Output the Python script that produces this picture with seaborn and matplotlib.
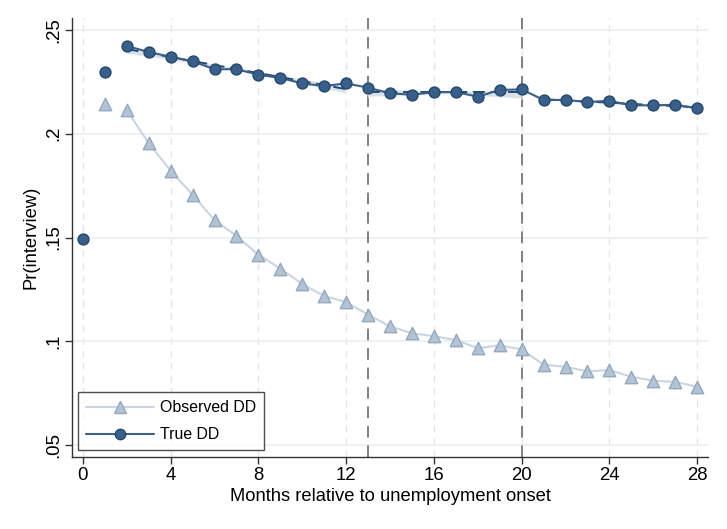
import numpy as np
import pandas as pd
import matplotlib
matplotlib.use("Agg")
import matplotlib.pyplot as plt
import seaborn as sns
from matplotlib.lines import Line2D
from matplotlib.collections import PolyCollection

months = list(range(0, 29))
true_dd = [0.1491, 0.2299, 0.2423, 0.2394, 0.2371, 0.2349, 0.2311, 0.2311, 0.2285,
           0.2269, 0.2243, 0.2230, 0.2243, 0.2222, 0.2195, 0.2188, 0.2201, 0.2201,
           0.2179, 0.2211, 0.2214, 0.2163, 0.2163, 0.2153, 0.2159, 0.2137, 0.2137,
           0.2140, 0.2123]
obs_months = list(range(1, 29))
observed_dd = [0.2143, 0.2114, 0.1954, 0.1822, 0.1706, 0.1584, 0.1507, 0.1417, 0.1350,
               0.1276, 0.1218, 0.1189, 0.1128, 0.1072, 0.1038, 0.1025, 0.1006, 0.0967,
               0.0980, 0.0961, 0.0887, 0.0877, 0.0855, 0.0861, 0.0829, 0.0810, 0.0804,
               0.0781]
segments = [(2, 12), (13, 20), (21, 28)]
breaks = [13, 20]
xticks = [0, 4, 8, 12, 16, 20, 24, 28]
yticks = [0.05, 0.1, 0.15, 0.2, 0.25]
ytick_labels = [".05", ".1", ".15", ".2", ".25"]

sns.set_theme(style="white")
plt.rcParams['font.family'] = ['Liberation Sans', 'DejaVu Sans']
plt.rcParams['text.color'] = 'black'
plt.rcParams['axes.labelcolor'] = 'black'
plt.rcParams['xtick.color'] = 'black'
plt.rcParams['ytick.color'] = 'black'

df_true = pd.DataFrame({"m": months, "v": true_dd})
df_obs = pd.DataFrame({"m": obs_months, "v": observed_dd})

c_true = "#3a6089"
c_true_edge = "#24496f"
c_obs = "#b3c3d3"
c_obs_edge = "#93a9bf"
c_obs_line = "#c9d5e1"

fig = plt.figure(figsize=(7.27, 5.29), dpi=100)
ax = fig.add_axes([0.099, 0.136, 0.875, 0.830])

for xt in xticks:
    ax.axvline(xt, color="#e6e6e6", lw=1.0, ls=(0, (5, 4)), zorder=0)
for yt in yticks:
    ax.axhline(yt, color="#e9eff1", lw=1.2, zorder=0)
for b in breaks:
    ax.axvline(b, color="#808080", lw=1.4, ls=(0, (6, 4)), zorder=1)

obs_line = df_obs[df_obs.m >= 2]
sns.lineplot(data=obs_line, x="m", y="v", ax=ax, color=c_obs_line, lw=1.5, zorder=2)
sns.scatterplot(data=df_obs, x="m", y="v", ax=ax, marker="^", s=80, color=c_obs,
                edgecolor=c_obs_edge, linewidth=1.0, zorder=3)

for a, b in segments:
    seg = df_true[(df_true.m >= a) & (df_true.m <= b)]
    sns.regplot(data=seg, x="m", y="v", ax=ax, scatter=False, ci=95, seed=1,
                color=c_true_edge, truncate=True,
                line_kws=dict(ls=(0, (6, 3)), lw=1.4, zorder=4))

true_line = df_true[df_true.m >= 2]
sns.lineplot(data=true_line, x="m", y="v", ax=ax, color=c_true, lw=1.5, zorder=5)
sns.scatterplot(data=df_true, x="m", y="v", ax=ax, marker="o", s=62, color=c_true,
                edgecolor=c_true_edge, linewidth=1.0, zorder=6)

for coll in ax.collections:
    if isinstance(coll, PolyCollection):
        coll.set_facecolor("#bfcddb")
        coll.set_alpha(0.6)
        coll.set_zorder(2.5)

ax.set_xlim(-0.5, 28.5)
ax.set_ylim(0.0442, 0.2558)
ax.set_xticks(xticks)
ax.set_xticklabels([str(x) for x in xticks])
ax.set_yticks(yticks)
ax.set_yticklabels(ytick_labels, rotation=90, va="center")
ax.tick_params(axis="both", which="both", direction="out", length=5, width=1.0,
               color="#333333", labelsize=13.4, pad=2, left=True, bottom=True)
for s in ["top", "right"]:
    ax.spines[s].set_visible(False)
for s in ["left", "bottom"]:
    ax.spines[s].set_color("#333333")
    ax.spines[s].set_linewidth(1.0)

ax.set_xlabel("Months relative to unemployment onset", fontsize=13.2, labelpad=3)
ax.set_ylabel("Pr(interview)", fontsize=13.2, labelpad=4)

handles = [
    Line2D([0], [0], color=c_obs_line, lw=1.5, marker="^", markersize=8.5,
           markerfacecolor=c_obs, markeredgecolor=c_obs_edge),
    Line2D([0], [0], color=c_true, lw=1.5, marker="o", markersize=7.5,
           markerfacecolor=c_true, markeredgecolor=c_true_edge),
]
leg = ax.legend(handles, ["Observed DD", "True DD"], loc="lower left",
                bbox_to_anchor=(0.0094, 0.016), fontsize=11.4, handlelength=4.3,
                frameon=True, fancybox=False, edgecolor="#222222",
                borderpad=0.5, labelspacing=0.75, handletextpad=0.4,
                borderaxespad=0)
leg.get_frame().set_linewidth(1.0)

fig.savefig("out.png", dpi=100)
